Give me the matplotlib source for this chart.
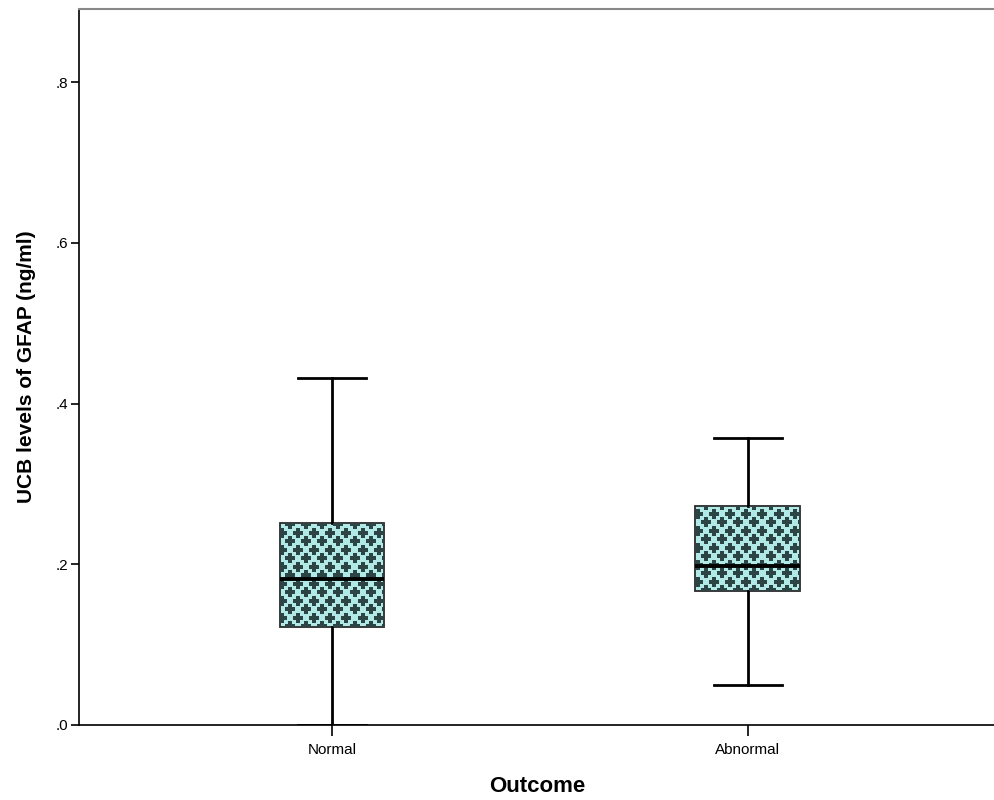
"""Box plot of UCB GFAP levels by outcome, SPSS style."""

import numpy as np
import matplotlib

matplotlib.use("agg")
import matplotlib.pyplot as plt

plt.rcParams["font.family"] = ["Liberation Sans", "DejaVu Sans"]

groups = ["Normal", "Abnormal"]
q1_vals = [0.122, 0.167]
median_vals = [0.182, 0.198]
q3_vals = [0.251, 0.273]
whisker_lo = [0.0, 0.050]
whisker_hi = [0.432, 0.357]

y_ticks = [0.0, 0.2, 0.4, 0.6, 0.8]
y_tick_labels = [".0", ".2", ".4", ".6", ".8"]

fill_col = "#b0e9e6"
cross_col = "#2d4444"

fig = plt.figure(figsize=(9.95, 8.0), dpi=100)
ax1 = fig.add_axes([0.0794, 0.09375, 0.9206, 0.895])

stats = []
for idx, name in enumerate(groups):
    stats.append(
        {
            "label": name,
            "q1": q1_vals[idx],
            "med": median_vals[idx],
            "q3": q3_vals[idx],
            "whislo": whisker_lo[idx],
            "whishi": whisker_hi[idx],
            "fliers": [],
        }
    )

positions = [1, 2]
bp = ax1.bxp(
    stats,
    positions=positions,
    widths=0.252,
    patch_artist=True,
    showfliers=False,
    boxprops=dict(facecolor=fill_col, edgecolor="#2a2a2a", lw=1.3),
    medianprops=dict(color="black", lw=2.8),
    whiskerprops=dict(color="black", lw=2.0),
    capprops=dict(color="black", lw=2.0),
    capwidths=0.163,
    zorder=2,
)

# little cross pattern inside each box, clipped to the box outline
for idx, box in enumerate(bp["boxes"]):
    pos = positions[idx]
    xs, ys = [], []
    row = 0
    yy = q1_vals[idx] - 0.01
    while yy < q3_vals[idx] + 0.01:
        off = 0.0 if row % 2 == 0 else 0.0195
        xx = pos - 0.16 + off
        while xx < pos + 0.16:
            xs.append(xx)
            ys.append(yy)
            xx += 0.039
        yy += 0.0106
        row += 1
    sc = ax1.scatter(xs, ys, marker="P", s=58, color=cross_col, lw=0, zorder=3)
    sc.set_clip_path(box)

# keep the median line on top of the pattern
for line in bp["medians"]:
    line.set_zorder(4)

ax1.set_xlim(0.392, 2.594)
ax1.set_ylim(0.0, 0.891)

ax1.set_yticks(y_ticks)
ax1.set_yticklabels(y_tick_labels)
ax1.set_xticks(positions)
ax1.set_xticklabels(groups)

ax1.tick_params(axis="y", direction="out", length=6, width=1.2, labelsize=11, pad=2)
ax1.tick_params(axis="x", direction="out", length=8, width=1.2, labelsize=11, pad=5)

ax1.spines["right"].set_visible(False)
ax1.spines["top"].set_color("#888888")
ax1.spines["top"].set_linewidth(1.5)
ax1.spines["left"].set_linewidth(1.2)
ax1.spines["bottom"].set_linewidth(1.2)

ax1.set_ylabel("UCB levels of GFAP (ng/ml)", fontsize=15, fontweight="bold", labelpad=14)
ax1.set_xlabel("Outcome", fontsize=16, fontweight="bold", labelpad=14)

plt.savefig("out.png")
plt.close(fig)
